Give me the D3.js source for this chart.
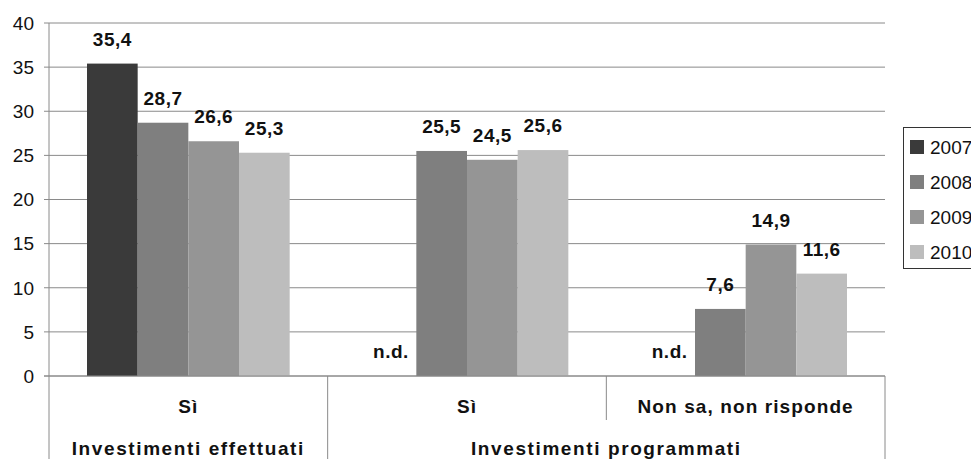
<!DOCTYPE html>
<html><head><meta charset="utf-8">
<script src="https://cdn.jsdelivr.net/npm/d3@7"></script>
<style>html,body{margin:0;padding:0;background:#fff;}svg{display:block;}</style>
</head><body>
<svg id="c" width="971" height="459"></svg>
<script>
const categories = ["Sì", "Sì", "Non sa, non risponde"];
const groupLabels = ["Investimenti effettuati", "Investimenti programmati"];
const groupSpans = [1, 2];
const years = ["2007", "2008", "2009", "2010"];
const values2007 = [35.4, null, null];
const values2008 = [28.7, 25.5, 7.6];
const values2009 = [26.6, 24.5, 14.9];
const values2010 = [25.3, 25.6, 11.6];
const yTicks = [0, 5, 10, 15, 20, 25, 30, 35, 40];
const colors = ["#3a3a3a", "#7f7f7f", "#959595", "#bdbdbd"];

(function () {
const series = [values2007, values2008, values2009, values2010];
const fmt = v => v == null ? "n.d." : d3.format(".1f")(v).replace(".", ",");

const svg = d3.select("#c");
const mLeft = 49, mRight = 885, mTop = 23, mBottom = 376;
const font = "'Liberation Sans', Arial, sans-serif";
const gridColor = "#8a8a8a";

const y = d3.scaleLinear().domain([0, 40]).range([mBottom, mTop]);
const x0 = d3.scaleBand().domain(d3.range(categories.length)).range([mLeft, mRight]);
const x1 = d3.scaleBand().domain(years).range([0, x0.bandwidth()]).paddingOuter(0.75);
const color = d3.scaleOrdinal().domain(years).range(colors);

// gridlines
svg.append("g").selectAll("line").data(yTicks).join("line")
  .attr("x1", mLeft - 5).attr("x2", mRight)
  .attr("y1", d => y(d)).attr("y2", d => y(d))
  .attr("stroke", gridColor).attr("stroke-width", 1);
svg.append("g").selectAll("text").data(yTicks).join("text")
  .attr("x", 34).attr("y", d => y(d)).attr("dy", "0.36em")
  .attr("text-anchor", "end").attr("font-family", font).attr("font-size", 19)
  .attr("fill", "#111").text(d => d);

// bars
const data = [];
categories.forEach((c, i) => years.forEach((yr, j) => data.push({ i, yr, v: series[j][i] })));
svg.append("g").selectAll("rect").data(data.filter(d => d.v != null)).join("rect")
  .attr("x", d => x0(d.i) + x1(d.yr)).attr("width", x1.bandwidth())
  .attr("y", d => y(d.v)).attr("height", d => y(0) - y(d.v))
  .attr("fill", d => color(d.yr));
// labels
svg.append("g").selectAll("text").data(data).join("text")
  .attr("x", d => x0(d.i) + x1(d.yr) + x1.bandwidth() / 2)
  .attr("y", d => y(d.v == null ? 0 : d.v) - 18)
  .attr("text-anchor", "middle").attr("font-family", font).attr("font-size", 19)
  .attr("font-weight", "bold").attr("letter-spacing", 0.5).attr("fill", "#111")
  .text(d => fmt(d.v));

// axis lines
svg.append("line").attr("x1", mLeft).attr("x2", mLeft).attr("y1", mTop).attr("y2", 459)
  .attr("stroke", gridColor);
svg.append("line").attr("x1", mLeft - 5).attr("x2", mRight).attr("y1", mBottom).attr("y2", mBottom)
  .attr("stroke", gridColor);
// category separators
let idx = 0;
const groupBounds = [];
groupSpans.forEach(s => { groupBounds.push(idx); idx += s; });
groupBounds.push(idx);
d3.range(1, categories.length + 1).forEach(k => {
  const xx = k < categories.length ? x0(k) : mRight;
  const full = groupBounds.includes(k);
  svg.append("line").attr("x1", xx).attr("x2", xx).attr("y1", mBottom)
    .attr("y2", full ? 459 : 420).attr("stroke", gridColor);
});
svg.append("g").selectAll("text").data(categories).join("text")
  .attr("x", (d, i) => x0(i) + x0.bandwidth() / 2).attr("y", 413)
  .attr("text-anchor", "middle").attr("font-family", font).attr("font-size", 19)
  .attr("font-weight", "bold").attr("letter-spacing", 1.1).attr("fill", "#111").text(d => d);
svg.append("g").selectAll("text").data(groupLabels).join("text")
  .attr("x", (d, i) => {
    const a = x0(groupBounds[i]);
    const b = groupBounds[i + 1] < categories.length ? x0(groupBounds[i + 1]) : mRight;
    return (a + b) / 2;
  }).attr("y", 455)
  .attr("text-anchor", "middle").attr("font-family", font).attr("font-size", 19)
  .attr("font-weight", "bold").attr("letter-spacing", 1.6).attr("fill", "#111").text(d => d);

// legend
const lg = svg.append("g");
lg.append("rect").attr("x", 903.5).attr("y", 127.5).attr("width", 80).attr("height", 141)
  .attr("fill", "#fff").attr("stroke", "#333");
const ly = d3.scalePoint().domain(years).range([147, 252]);
lg.selectAll("rect.sw").data(years).join("rect").attr("class", "sw")
  .attr("x", 910).attr("y", d => ly(d) - 7).attr("width", 14).attr("height", 14)
  .attr("fill", d => color(d));
lg.selectAll("text").data(years).join("text")
  .attr("x", 930).attr("y", d => ly(d)).attr("dy", "0.36em")
  .attr("font-family", font).attr("font-size", 19)
  .attr("fill", "#111").text(d => d);
})();
</script>
</body></html>
